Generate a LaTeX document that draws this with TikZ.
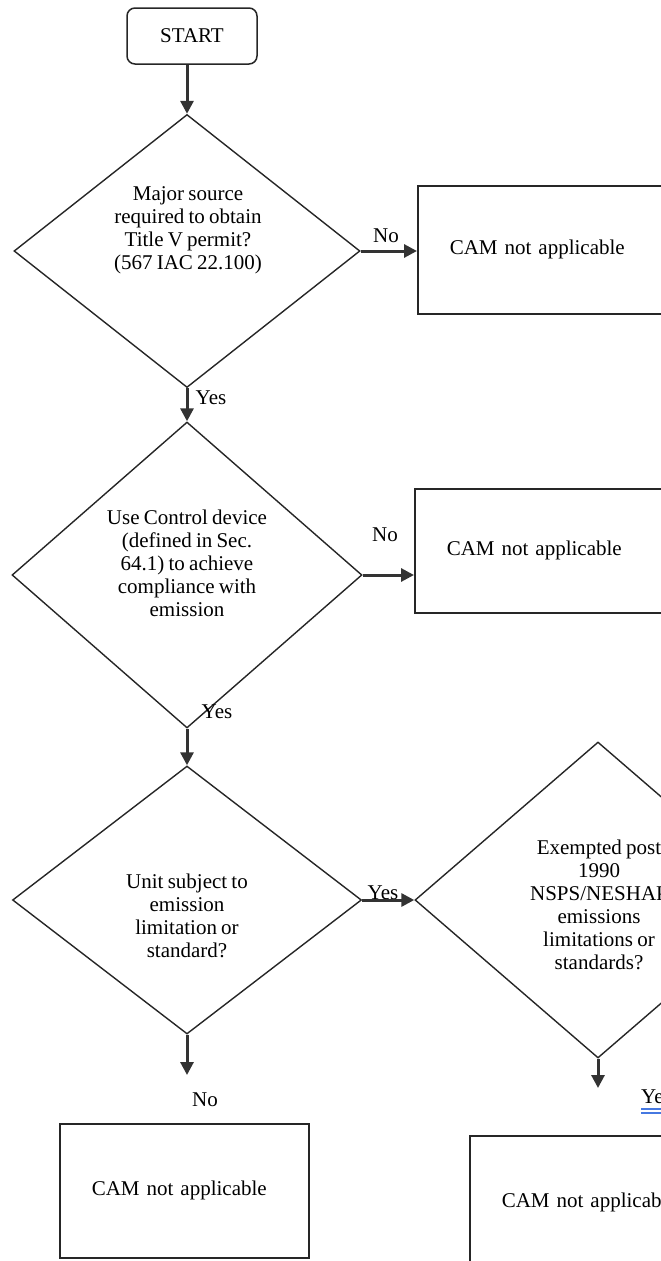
\documentclass[tikz,border=0pt]{standalone}
\usepackage{fontspec}
\setmainfont[WordSpace=0.8]{Liberation Serif}
\usetikzlibrary{shapes.geometric,arrows.meta}
\definecolor{linkblue}{RGB}{70,120,225}

\begin{document}
\begin{tikzpicture}[x=1pt, y=-1pt,
	font=\fontsize{21}{23}\selectfont,
	decision/.style={diamond, draw=black!85, line width=1.4pt, inner sep=0pt},
	qtext/.style={align=center, inner sep=0pt},
	camnot/.style={rectangle, draw=black!85, line width=1.6pt, anchor=north west, inner xsep=32pt, align=left},
	flow/.style={draw=black!80, line width=3pt, -{Triangle[length=13pt, width=13pt]}}]
	\useasboundingbox (0,0) rectangle (661,1261);
	\clip (0,0) rectangle (661,1261);
	% start and the three questions in the left column
	\node[rectangle, rounded corners=8pt, draw=black!85, line width=1.5pt, minimum width=130, minimum height=56] (start) at (192,36) {START};
	\node[decision, minimum width=346, minimum height=273] (major) at (187,251) {};
	\node[qtext] (majortxt) at (188,230) {Major source\\required to obtain\\Title V permit?\\(567 IAC 22.100)};
	\node[decision, minimum width=350, minimum height=306] (control) at (187,575) {};
	\node[qtext] (controltxt) at (187,563) {Use Control device\\(defined in Sec.\\64.1) to achieve\\compliance with\\emission};
	\node[decision, minimum width=349, minimum height=268] (unit) at (187,900) {};
	\node[qtext] (unittxt) at (187,916) {Unit subject to\\emission\\limitation or\\standard?};
	\node[decision, minimum width=366, minimum height=316] (exempt) at (598,900) {};
	\node[qtext] (exempttxt) at (599,905) {Exempted post\\1990\\NSPS/NESHAP\\emissions\\limitations or\\standards?};
	% end boxes
	\node[camnot, text width=196, minimum height=128] (notapp1) at (417,185) {CAM not applicable};
	\node[camnot, text width=196, minimum height=124] (notapp2) at (414,488) {CAM not applicable};
	\node[camnot, text width=185, minimum height=134] (notapp3) at (59,1123) {CAM not applicable};
	\node[camnot, text width=196, minimum height=134] (notapp4) at (469,1135) {CAM not applicable};
	% connectors
	\draw[flow] (start.south -| major.north) -- (major.north);
	\draw[flow] (major.south) -- (control.north);
	\draw[flow] (major.east) -- (major.east -| notapp1.west);
	\draw[flow] (control.east) -- (control.east -| notapp2.west);
	\draw[flow] (control.south) -- (unit.north);
	\node (yes3) at (383,893) {Yes};
	\draw[flow] (unit.east) -- (exempt.west);
	\draw[flow, shorten >=48pt] (unit.south) -- (unit.south |- notapp3.north);
	\draw[flow, shorten >=47pt] (exempt.south) -- (exempt.south |- notapp4.north);
	% labels
	\node (no1) at (386,236) {No};
	\node (yes1) at (211,398) {Yes};
	\node (no2) at (385,535) {No};
	\node (yes2) at (217,712) {Yes};
	\node (no3) at (205,1100) {No};
	\node[anchor=west, inner sep=0pt] (yes4) at (641,1097) {Yes};
	\draw[linkblue, line width=1.6pt] ([yshift=-5pt]yes4.south west) -- ++(40,0)
		([yshift=-9pt]yes4.south west) -- ++(40,0);
\end{tikzpicture}
\end{document}
